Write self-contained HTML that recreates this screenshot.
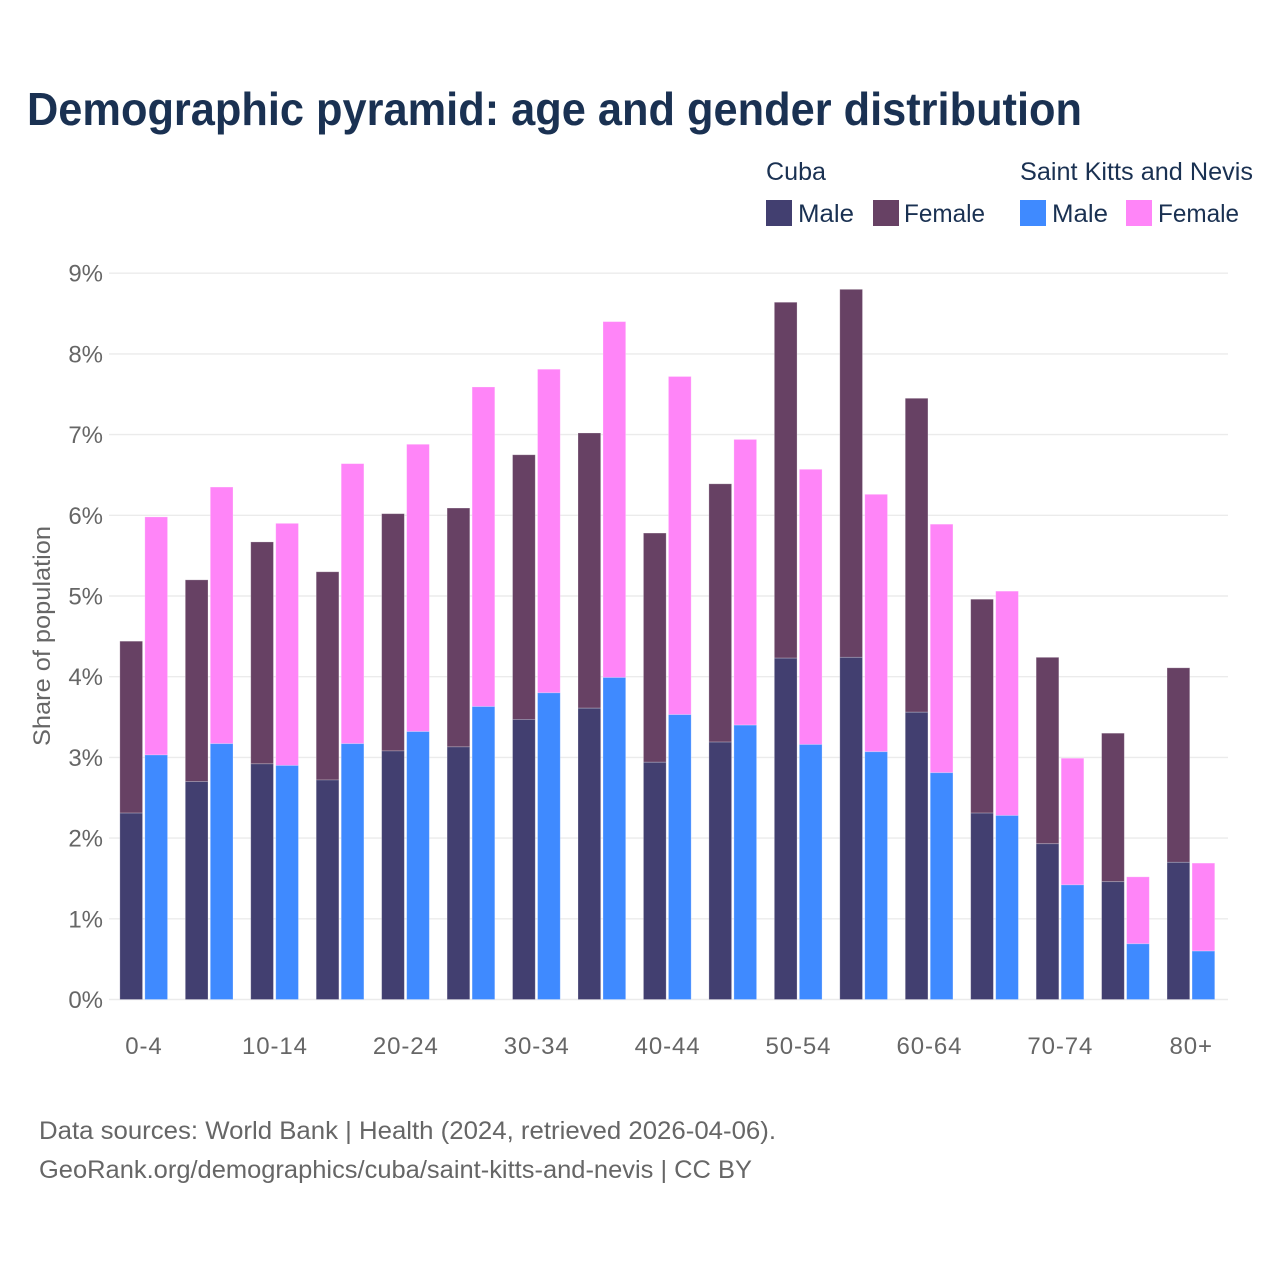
<!DOCTYPE html>
<html lang="en">
<head>
<meta charset="utf-8">
<title>Demographic pyramid</title>
<style>
html,body{margin:0;padding:0;background:#fff;width:1280px;height:1280px;overflow:hidden}
svg{display:block}
text{font-family:"Liberation Sans",Arial,sans-serif}
</style>
</head>
<body>
<svg id="chart" width="1280" height="1280" viewBox="0 0 1280 1280">
  <rect x="0" y="0" width="1280" height="1280" fill="#ffffff"/>
  <text x="27" y="125" font-size="46" font-weight="700" fill="#1a3152" textLength="1055" lengthAdjust="spacingAndGlyphs">Demographic pyramid: age and gender distribution</text>

  <g>
    <text x="766" y="180" font-size="25" fill="#1a3152" textLength="60" lengthAdjust="spacingAndGlyphs">Cuba</text>
    <rect x="766" y="200" width="26" height="26" fill="#423f70"/>
    <text x="798" y="222" font-size="25" fill="#1a3152" textLength="56" lengthAdjust="spacingAndGlyphs">Male</text>
    <rect x="873" y="200" width="26" height="26" fill="#674164"/>
    <text x="904" y="222" font-size="25" fill="#1a3152" textLength="81" lengthAdjust="spacingAndGlyphs">Female</text>
    <text x="1020" y="180" font-size="25" fill="#1a3152" textLength="233" lengthAdjust="spacingAndGlyphs">Saint Kitts and Nevis</text>
    <rect x="1020" y="200" width="26" height="26" fill="#3f8aff"/>
    <text x="1052" y="222" font-size="25" fill="#1a3152" textLength="56" lengthAdjust="spacingAndGlyphs">Male</text>
    <rect x="1126" y="200" width="26" height="26" fill="#ff85f8"/>
    <text x="1158" y="222" font-size="25" fill="#1a3152" textLength="81" lengthAdjust="spacingAndGlyphs">Female</text>
  </g>

  <g id="grid"></g>
  <g id="bars"></g>
  <g id="yticks"></g>
  <g id="xticks"></g>

  <text transform="translate(50,636) rotate(-90)" text-anchor="middle" font-size="24" fill="#666666" textLength="220" lengthAdjust="spacingAndGlyphs">Share of population</text>

  <text x="39" y="1139" font-size="25" fill="#666666" textLength="737" lengthAdjust="spacingAndGlyphs">Data sources: World Bank | Health (2024, retrieved 2026-04-06).</text>
  <text x="39" y="1178" font-size="25" fill="#666666" textLength="713" lengthAdjust="spacingAndGlyphs">GeoRank.org/demographics/cuba/saint-kitts-and-nevis | CC BY</text>
</svg>
<script>
const ageGroups = ["0-4","5-9","10-14","15-19","20-24","25-29","30-34","35-39","40-44","45-49","50-54","55-59","60-64","65-69","70-74","75-79","80+"];
const axisLabels = ["0-4","","10-14","","20-24","","30-34","","40-44","","50-54","","60-64","","70-74","","80+"];
const yTickValues = [0,1,2,3,4,5,6,7,8,9];
const cubaMale = [2.31,2.70,2.92,2.72,3.08,3.13,3.47,3.61,2.94,3.19,4.23,4.24,3.56,2.31,1.93,1.46,1.70];
const cubaFemale = [2.13,2.50,2.75,2.58,2.94,2.96,3.28,3.41,2.84,3.20,4.41,4.56,3.89,2.65,2.31,1.84,2.41];
const sknMale = [3.03,3.17,2.90,3.17,3.32,3.63,3.80,3.99,3.53,3.40,3.16,3.07,2.81,2.28,1.42,0.69,0.60];
const sknFemale = [2.95,3.18,3.00,3.47,3.56,3.96,4.01,4.41,4.19,3.54,3.41,3.19,3.08,2.78,1.57,0.83,1.09];

const NS = "http://www.w3.org/2000/svg";
const yBase = 999.5, yUnit = 80.7;
const plotLeft = 109, plotRight = 1228;
const firstCenter = 143.7, step = 65.45;
const barW = 22.7, barGap = 2.3;

function yScale(v){ return yBase - v * yUnit; }
function xCenter(i){ return firstCenter + i * step; }

const grid = document.getElementById("grid");
const yticks = document.getElementById("yticks");
yTickValues.forEach(function(v){
  const line = document.createElementNS(NS,"line");
  line.setAttribute("x1",plotLeft);
  line.setAttribute("x2",plotRight);
  line.setAttribute("y1",yScale(v));
  line.setAttribute("y2",yScale(v));
  line.setAttribute("stroke","#ebebeb");
  line.setAttribute("stroke-width","1.4");
  
  
  grid.appendChild(line);

  const t = document.createElementNS(NS,"text");
  t.setAttribute("x",103);
  t.setAttribute("y",yScale(v)+8.5);
  t.setAttribute("text-anchor","end");
  t.setAttribute("font-size","24");
  t.setAttribute("fill","#666666");
  t.textContent = v + "%";
  
  
  yticks.appendChild(t);
});

const xticks = document.getElementById("xticks");
axisLabels.forEach(function(label,i){
  if(!label) return;
  const t = document.createElementNS(NS,"text");
  t.setAttribute("x",xCenter(i)+0.3);
  t.setAttribute("y",1054);
  t.setAttribute("text-anchor","middle");
  t.setAttribute("font-size","24");
  t.setAttribute("letter-spacing","0.9");
  t.setAttribute("fill","#666666");
  t.textContent = label;
  
  
  xticks.appendChild(t);
});

const bars = document.getElementById("bars");
function drawBar(x, low, high, fill, name){
  const r = document.createElementNS(NS,"rect");
  r.setAttribute("x",x);
  r.setAttribute("width",barW);
  r.setAttribute("y",yScale(high));
  r.setAttribute("height",yScale(low)-yScale(high));
  r.setAttribute("fill",fill);
  r.setAttribute("stroke","#ffffff");
  r.setAttribute("stroke-opacity","0.3");
  r.setAttribute("stroke-width","0.8");
  
  
  bars.appendChild(r);
}
ageGroups.forEach(function(group,i){
  const cx = xCenter(i);
  const xa = cx - barGap/2 - barW;
  const xb = cx + barGap/2;
  drawBar(xa, cubaMale[i], cubaMale[i]+cubaFemale[i], "#674164", "bar-cuba-female");
  drawBar(xa, 0, cubaMale[i], "#423f70", "bar-cuba-male");
  drawBar(xb, sknMale[i], sknMale[i]+sknFemale[i], "#ff85f8", "bar-skn-female");
  drawBar(xb, 0, sknMale[i], "#3f8aff", "bar-skn-male");
});
</script>
</body>
</html>
